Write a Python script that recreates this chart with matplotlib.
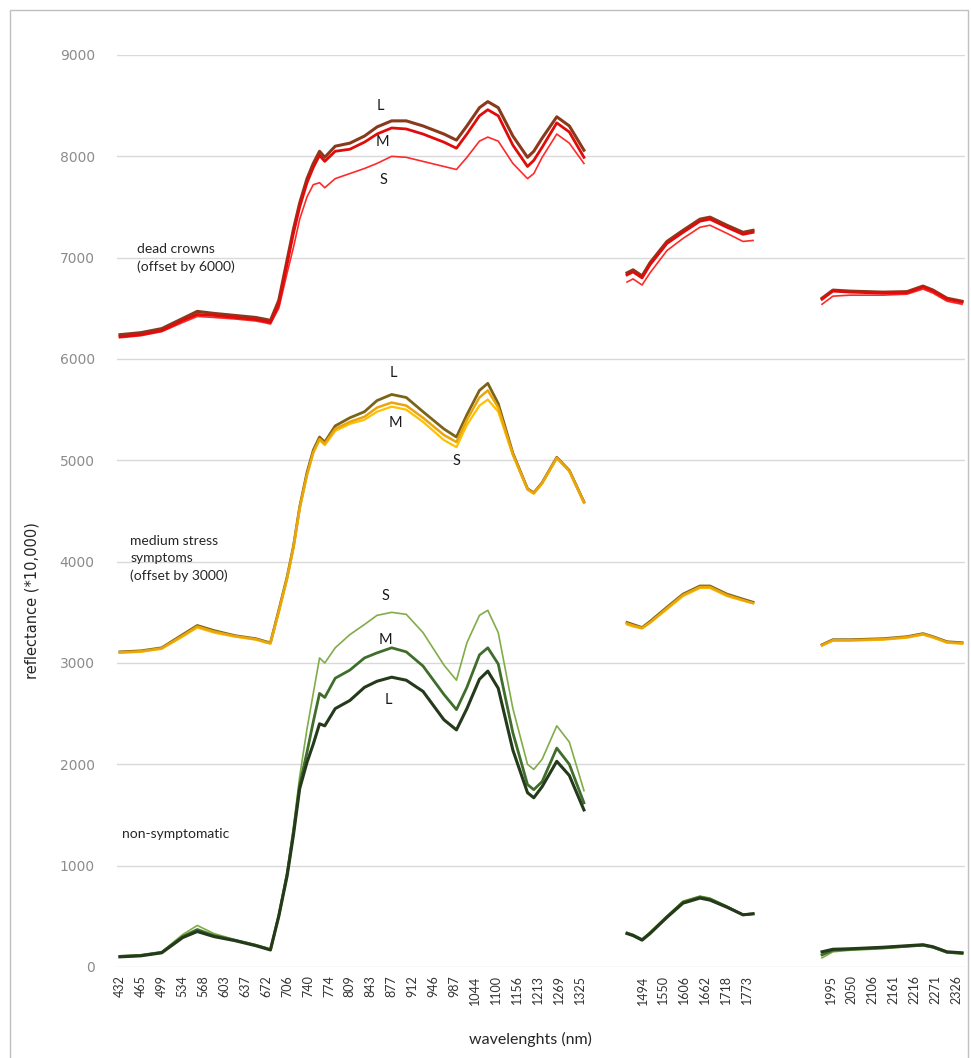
import numpy as np
import matplotlib.pyplot as plt
from matplotlib.patches import Rectangle

plt.rcParams['font.family'] = ['Lato', 'DejaVu Sans']

# wavelength labels on the category axis (gaps = removed water bands)
wl_vnir = [432, 465, 499, 534, 568, 603, 637, 672, 706, 740, 774, 809, 843, 877,
           912, 946, 987, 1044, 1100, 1156, 1213, 1269, 1325]
wl_swir1 = [1494, 1550, 1606, 1662, 1718, 1773]
wl_swir2 = [1995, 2050, 2106, 2161, 2216, 2271, 2326]
tick_start = [0, 25, 34]

# band positions (in label steps) where the spectra are sampled
pos_vnir = [0, 1, 2, 3, 3.7, 4.5, 5.5, 6.5, 7, 7.2, 7.6, 8, 8.3, 8.6, 8.95, 9.25,
            9.55, 9.8, 10.3, 11, 11.7, 12.3, 13, 13.7, 14.5, 15.5, 16.1, 16.6,
            17.2, 17.6, 18.1, 18.8, 19.5, 19.8, 20.2, 20.9, 21.5, 22.2]
pos_swir1 = [24.26, 24.55, 24.98, 25.36, 26.17, 26.94, 27.75, 28.23, 29.04, 29.81, 30.29]
pos_swir2 = [33.59, 34.11, 34.93, 36.51, 37.66, 38.42, 38.9, 39.57, 40.29]

# dead crowns (offset by 6000)
dead_L = ([6240, 6260, 6300, 6400, 6470, 6450, 6430, 6410, 6390, 6380, 6580, 6980, 7280,
           7540, 7780, 7930, 8050, 7990, 8100, 8130, 8200, 8290, 8350, 8350, 8300, 8220,
           8160, 8300, 8480, 8540, 8480, 8200, 7990, 8050, 8180, 8390, 8300, 8060],
          [6850, 6880, 6820, 6950, 7160, 7270, 7380, 7400, 7320, 7250, 7270],
          [6600, 6680, 6670, 6660, 6665, 6720, 6680, 6600, 6570])
dead_M = ([6220, 6240, 6280, 6380, 6440, 6430, 6410, 6390, 6370, 6360, 6540, 6940, 7240,
           7500, 7740, 7890, 8010, 7950, 8050, 8070, 8140, 8220, 8280, 8270, 8220, 8140,
           8080, 8220, 8400, 8460, 8400, 8110, 7900, 7960, 8090, 8330, 8240, 7990],
          [6830, 6860, 6800, 6930, 7140, 7250, 7360, 7380, 7300, 7230, 7250],
          [6590, 6670, 6660, 6650, 6655, 6710, 6670, 6590, 6560])
dead_S = ([6210, 6230, 6270, 6360, 6420, 6410, 6395, 6375, 6355, 6345, 6500, 6850, 7100,
           7380, 7600, 7720, 7740, 7690, 7780, 7830, 7880, 7930, 8000, 7990, 7950, 7900,
           7870, 7990, 8150, 8190, 8150, 7930, 7780, 7830, 7990, 8220, 8130, 7930],
          [6760, 6790, 6730, 6850, 7070, 7190, 7300, 7320, 7240, 7160, 7170],
          [6540, 6620, 6630, 6630, 6640, 6690, 6650, 6570, 6540])

# medium stress symptoms (offset by 3000)
med_L = ([3110, 3120, 3150, 3280, 3370, 3320, 3270, 3240, 3210, 3200, 3520, 3850, 4150,
          4540, 4880, 5100, 5230, 5180, 5340, 5420, 5480, 5590, 5650, 5620, 5480, 5310,
          5230, 5450, 5690, 5760, 5560, 5070, 4720, 4680, 4780, 5030, 4900, 4590],
         [3400, 3380, 3350, 3410, 3550, 3680, 3760, 3760, 3680, 3630, 3600],
         [3180, 3230, 3230, 3240, 3260, 3290, 3260, 3210, 3200])
med_M = ([3105, 3115, 3145, 3270, 3360, 3310, 3265, 3235, 3205, 3195, 3510, 3840, 4140,
          4530, 4860, 5080, 5210, 5165, 5310, 5380, 5430, 5520, 5570, 5540, 5420, 5250,
          5180, 5400, 5620, 5690, 5520, 5060, 4715, 4675, 4775, 5025, 4895, 4585],
         [3390, 3370, 3345, 3400, 3540, 3670, 3750, 3750, 3670, 3620, 3590],
         [3175, 3225, 3225, 3235, 3255, 3285, 3255, 3205, 3195])
med_S = ([3100, 3110, 3140, 3260, 3350, 3300, 3260, 3230, 3200, 3190, 3500, 3830, 4130,
          4520, 4850, 5070, 5200, 5150, 5290, 5360, 5400, 5480, 5530, 5500, 5380, 5200,
          5130, 5350, 5540, 5600, 5480, 5050, 4710, 4670, 4770, 5020, 4890, 4580],
         [3380, 3360, 3340, 3395, 3530, 3660, 3740, 3740, 3660, 3615, 3590],
         [3170, 3220, 3220, 3230, 3250, 3280, 3250, 3200, 3190])

# non-symptomatic
ok_L = ([100, 110, 140, 290, 350, 300, 260, 210, 180, 168, 500, 900, 1300, 1760, 2020,
         2200, 2400, 2380, 2550, 2630, 2760, 2820, 2860, 2830, 2720, 2440, 2340, 2550,
         2840, 2920, 2750, 2140, 1720, 1670, 1780, 2030, 1890, 1550],
        [330, 310, 265, 330, 490, 630, 680, 660, 590, 515, 525],
        [150, 175, 180, 195, 210, 220, 200, 150, 140])
ok_M = ([105, 115, 145, 300, 370, 310, 265, 215, 185, 170, 510, 920, 1330, 1800, 2120,
         2420, 2700, 2660, 2850, 2930, 3050, 3100, 3150, 3110, 2970, 2690, 2540, 2760,
         3080, 3150, 2990, 2310, 1800, 1750, 1830, 2160, 2000, 1620],
        [335, 315, 270, 335, 495, 640, 690, 670, 595, 515, 525],
        [120, 165, 175, 190, 205, 215, 195, 145, 135])
ok_S = ([110, 120, 150, 320, 410, 330, 270, 220, 190, 172, 520, 950, 1380, 1880, 2350,
         2700, 3050, 3000, 3150, 3280, 3380, 3470, 3500, 3480, 3300, 2980, 2830, 3200,
         3470, 3520, 3300, 2550, 2000, 1950, 2050, 2380, 2220, 1740],
        [340, 320, 275, 345, 505, 650, 700, 680, 600, 520, 525],
        [90, 150, 165, 180, 200, 210, 190, 140, 130])

fig = plt.figure(figsize=(9.71, 10.58), dpi=100)
ax = fig.add_axes([117 / 971, 1 - 967 / 1058, (965 - 117) / 971, (967 - 55) / 1058])

# outer chart frame
fig.patches.append(Rectangle((10 / 971, -0.01), 958 / 971, 1 - 10 / 1058 + 0.01,
                             transform=fig.transFigure, fill=False,
                             edgecolor='#bfbfbf', linewidth=1.0))


def draw(series, color, lw):
    for pos, vals in zip((pos_vnir, pos_swir1, pos_swir2), series):
        ax.plot(pos, vals, color=color, linewidth=lw, solid_joinstyle='round')


draw(dead_S, '#ff2a2a', 1.2)
draw(dead_L, '#8a3a1c', 2.2)
draw(dead_M, '#e00b0b', 2.0)
draw(med_L, '#7b6418', 2.0)
draw(med_S, '#ffc000', 1.6)
draw(med_M, '#eba50c', 1.8)
draw(ok_S, '#80ad48', 1.2)
draw(ok_M, '#3f6d2b', 2.0)
draw(ok_L, '#25391b', 2.2)

ax.set_ylim(0, 9000)
ax.set_xlim(-0.14, 40.43)
ax.set_yticks(np.arange(0, 9001, 1000))
ax.yaxis.grid(True, color='#d9d9d9', linewidth=1.0)
ax.set_axisbelow(True)
for s in ax.spines.values():
    s.set_visible(False)

ticks = []
labels = []
for start, wl in zip(tick_start, (wl_vnir, wl_swir1, wl_swir2)):
    ticks += [start + i for i in range(len(wl))]
    labels += [str(w) for w in wl]
ax.set_xticks(ticks)
ax.set_xticklabels(labels, rotation=90, fontsize=9, color='#333333')
ax.tick_params(axis='both', length=0)
ax.tick_params(axis='x', pad=6)
ax.tick_params(axis='y', pad=16)
for t in ax.get_yticklabels():
    t.set_fontfamily('DejaVu Sans')
    t.set_fontsize(10)
    t.set_color('#8c8c8c')

ax.set_xlabel('wavelenghts (nm)', fontsize=11.5, color='#262626')
ax.xaxis.set_label_coords(0.487, -0.071)
fig.text(32 / 971, 1 - 601 / 1058, 'reflectance (*10,000)', rotation=90,
         ha='center', va='center', fontsize=10.5, color='#262626',
         family=['Liberation Sans Narrow', 'DejaVu Sans Condensed', 'DejaVu Sans'])

# group captions
ax.text(0.8, 7000, 'dead crowns\n(offset by 6000)', fontsize=10, color='#262626',
        va='center', linespacing=1.5)
ax.text(0.5, 4030, 'medium stress\nsymptoms\n(offset by 3000)', fontsize=10,
        color='#262626', va='center', linespacing=1.5)
ax.text(0.1, 1310, 'non-symptomatic', fontsize=10, color='#262626', va='center')

# crown size labels
size_labels = [(12.44, 8495, 'L'), (12.54, 8140, 'M'), (12.6, 7765, 'S'),
               (13.07, 5862, 'L'), (13.16, 5368, 'M'), (16.12, 4993, 'S'),
               (12.72, 3661, 'S'), (12.68, 3227, 'M'), (12.82, 2634, 'L')]
for x, y, s in size_labels:
    ax.text(x, y, s, fontsize=10.5, color='#1a1a1a', ha='center', va='center')

fig.savefig('out.png', dpi=100, facecolor='white')
